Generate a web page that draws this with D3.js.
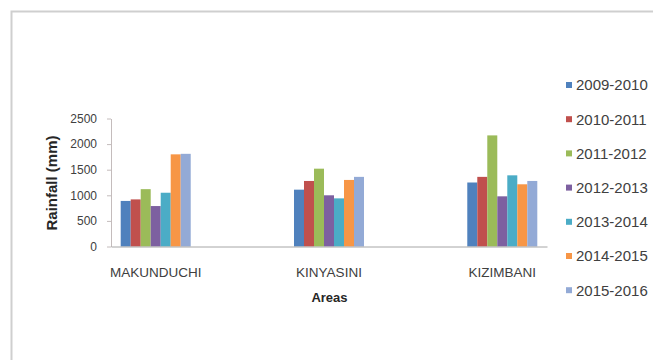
<!DOCTYPE html>
<html>
<head>
<meta charset="utf-8">
<script src="https://cdn.jsdelivr.net/npm/d3@7"></script>
<style>
  html, body { margin: 0; padding: 0; background: #fff; overflow: hidden; }
  svg { display: block; }
</style>
</head>
<body>
<svg id="chart" width="653" height="360"></svg>
<script>
// Annual rainfall (mm) per area, one value per season
const areas = ["MAKUNDUCHI", "KINYASINI", "KIZIMBANI"];
const seasons = ["2009-2010", "2010-2011", "2011-2012", "2012-2013", "2013-2014", "2014-2015", "2015-2016"];
const makunduchi = [890, 920, 1120, 790, 1050, 1800, 1810];
const kinyasini  = [1110, 1280, 1520, 1000, 940, 1300, 1360];
const kizimbani  = [1250, 1360, 2170, 980, 1390, 1215, 1280];
const yTicks = [0, 500, 1000, 1500, 2000, 2500];

const seasonColors = ["#4F81BD", "#C0504D", "#9BBB59", "#7D60A0", "#4BACC6", "#F79646", "#93AAD6"];

const rows = [makunduchi, kinyasini, kizimbani].map((vals, i) => ({
  area: areas[i],
  values: seasons.map((s, j) => ({ season: s, value: vals[j] }))
}));

const svg = d3.select("#chart");
const regular = "'Liberation Sans', Arial, sans-serif";

// chart frame
svg.append("rect")
  .attr("x", 11.5).attr("y", 11.5)
  .attr("width", 700).attr("height", 400)
  .attr("fill", "#fff")
  .attr("stroke", "#cfcfcf")
  .attr("stroke-width", 2);

// scales
const x0 = d3.scaleBand().domain(areas).range([111, 547])
  .paddingInner(0.596).paddingOuter(0.056);
const x1 = d3.scaleBand().domain(seasons).range([0, x0.bandwidth()]);
const y = d3.scaleLinear().domain([0, 2500]).range([246.5, 118.5]);
const color = d3.scaleOrdinal().domain(seasons).range(seasonColors);

// y axis
const yAxis = svg.append("g")
  .attr("transform", "translate(111,0)")
  .call(d3.axisLeft(y).tickValues(yTicks).tickFormat(d3.format("d"))
    .tickSize(4).tickSizeOuter(0).tickPadding(10));
yAxis.select(".domain").attr("stroke", "#c4bcbc");
yAxis.selectAll(".tick line").attr("stroke", "#c4bcbc");
yAxis.selectAll("text")
  .attr("fill", "#404040")
  .style("font-family", regular)
  .style("font-size", "12px");

// bars
const groups = svg.append("g").selectAll("g")
  .data(rows)
  .join("g")
  .attr("transform", d => `translate(${x0(d.area)},0)`);

groups.selectAll("rect")
  .data(d => d.values)
  .join("rect")
  .attr("x", d => x1(d.season))
  .attr("width", x1.bandwidth())
  .attr("y", d => y(d.value))
  .attr("height", d => y(0) - y(d.value))
  .attr("fill", d => color(d.season));

// x axis
const xAxis = svg.append("g")
  .attr("transform", `translate(0,${y(0)})`)
  .call(d3.axisBottom(x0).tickSize(0).tickSizeOuter(0));
xAxis.select(".domain").attr("stroke", "#a6a6a6");
xAxis.selectAll("text")
  .attr("y", 30).attr("dy", null)
  .attr("fill", "#404040")
  .style("font-family", regular)
  .style("font-size", "13.5px");

// axis titles
svg.append("text")
  .attr("x", 329.5).attr("y", 302)
  .attr("text-anchor", "middle")
  .attr("fill", "#262626")
  .style("font-family", regular)
  .style("font-weight", "bold")
  .style("font-size", "13px")
  .text("Areas");

svg.append("text")
  .attr("transform", "translate(57,183) rotate(-90)")
  .attr("text-anchor", "middle")
  .attr("fill", "#262626")
  .style("font-family", regular)
  .style("font-weight", "bold")
  .style("font-size", "15px")
  .text("Rainfall (mm)");

// legend
const legend = svg.append("g").selectAll("g")
  .data(seasons)
  .join("g")
  .attr("transform", (d, i) => `translate(566,${85 + i * 34.2})`);
legend.append("rect")
  .attr("x", 0).attr("y", -3)
  .attr("width", 6).attr("height", 6)
  .attr("fill", d => color(d));
legend.append("text")
  .attr("x", 10).attr("y", 0)
  .attr("dy", "0.36em")
  .attr("fill", "#404040")
  .style("font-family", regular)
  .style("font-size", "15px")
  .text(d => d);
</script>
</body>
</html>
